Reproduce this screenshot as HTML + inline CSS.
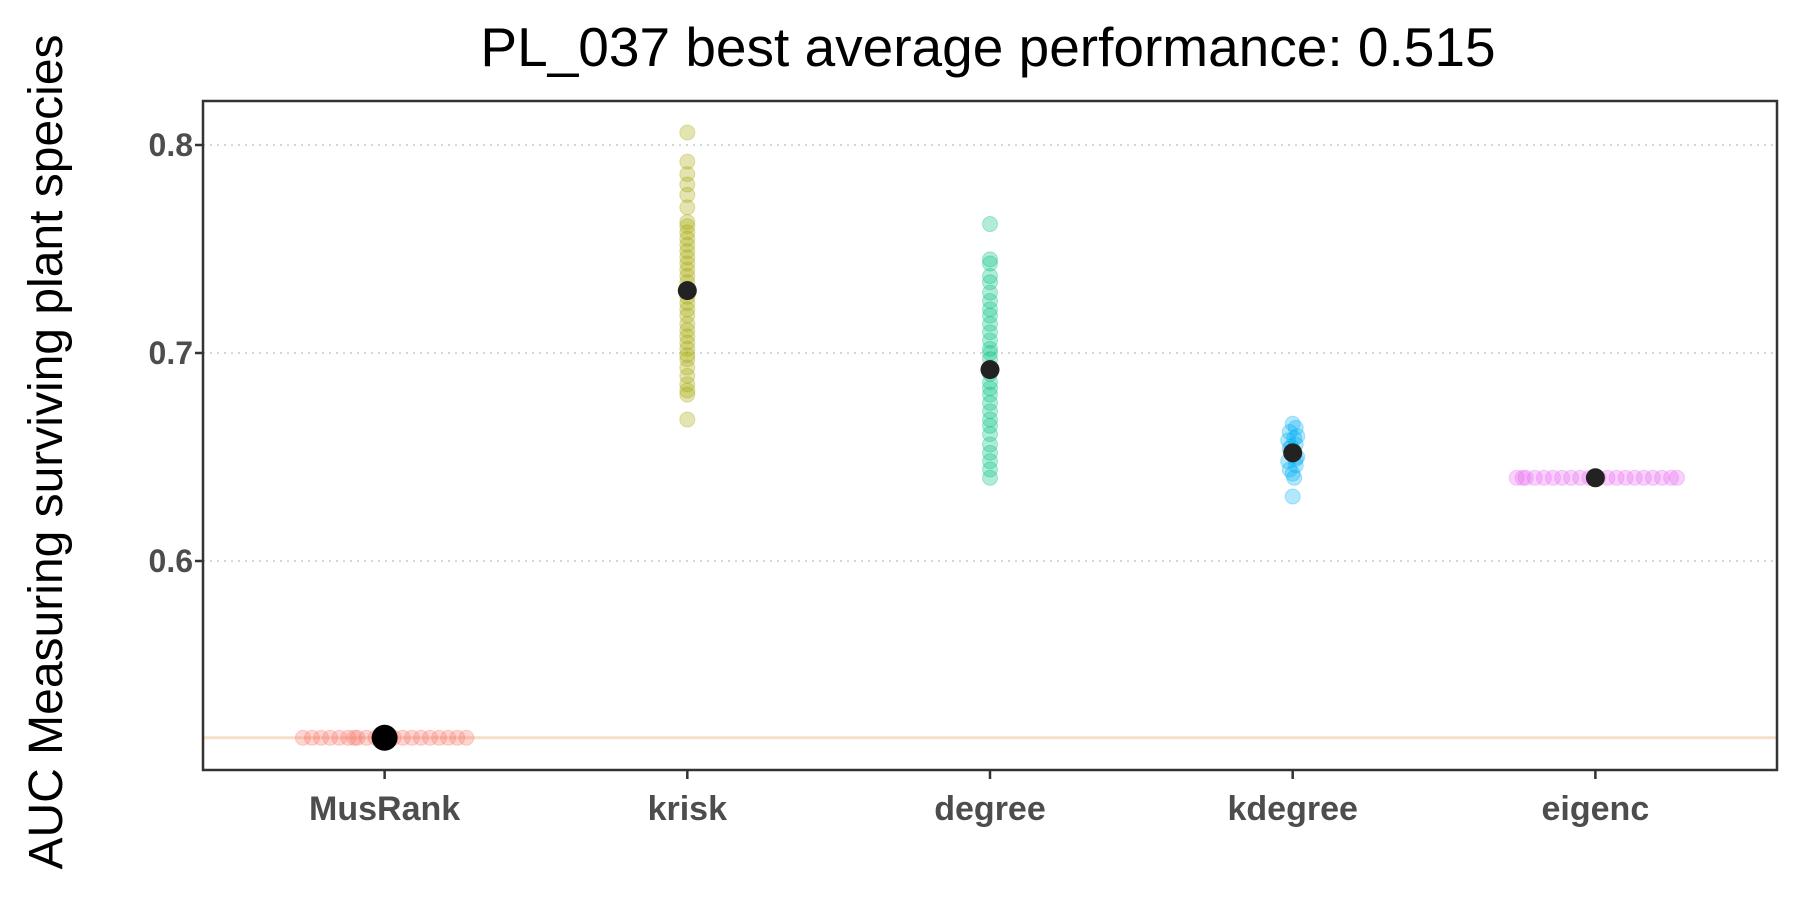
<!DOCTYPE html>
<html><head><meta charset="utf-8"><style>
html,body{margin:0;padding:0;background:#fff;}
svg{display:block;font-family:"Liberation Sans",sans-serif;}
</style></head><body>
<svg id="chart" width="1800" height="900" viewBox="0 0 1800 900">
<text x="988" y="66" font-size="55" text-anchor="middle" fill="#000">PL_037 best average performance: 0.515</text>
<text transform="translate(62,452) rotate(-90)" font-size="48" text-anchor="middle" fill="#000">AUC Measuring surviving plant species</text>
<g id="grid"></g><g id="marks"></g><g id="axes"></g>
</svg>
<script>
const categories = ["MusRank","krisk","degree","kdegree","eigenc"];
const colors = ["#F8766D","#A3A500","#00BF7D","#00B0F6","#E76BF3"];
const yTicks = [0.6,0.7,0.8];
const yTickLabels = ["0.6","0.7","0.8"];
const bestValue = 0.515;
const meanValues = [0.515,0.730,0.692,0.652,0.640];
const musrankValues = [0.515,0.515,0.515,0.515,0.515,0.515,0.515,0.515,0.515,0.515,0.515,0.515,0.515,0.515,0.515,0.515,0.515,0.515,0.515,0.515];
const musrankJitter = [-0.27,-0.24,-0.21,-0.18,-0.15,-0.12,-0.09,-0.06,-0.03,0.0,0.03,0.06,0.09,0.12,0.15,0.18,0.21,0.24,0.27,-0.1];
const kriskValues = [0.806,0.792,0.786,0.781,0.776,0.770,0.763,0.761,0.758,0.755,0.752,0.749,0.746,0.743,0.740,0.737,0.734,0.731,0.727,0.724,0.721,0.718,0.714,0.711,0.708,0.705,0.702,0.699,0.697,0.693,0.689,0.685,0.682,0.680,0.668];
const degreeValues = [0.762,0.745,0.743,0.737,0.734,0.729,0.725,0.721,0.718,0.714,0.710,0.706,0.702,0.700,0.697,0.693,0.690,0.686,0.683,0.680,0.676,0.672,0.668,0.665,0.661,0.656,0.652,0.648,0.644,0.640];
const kdegreeValues = [0.666,0.664,0.662,0.660,0.658,0.656,0.654,0.652,0.650,0.648,0.646,0.644,0.642,0.640,0.631,0.659,0.655,0.649];
const kdegreeJitter = [0,0.01,-0.01,0.015,-0.015,0.01,-0.01,0,0.015,-0.015,0.01,-0.01,0,0.005,0,0.005,-0.005,0.01];
const eigencValues = [0.640,0.640,0.640,0.640,0.640,0.640,0.640,0.640,0.640,0.640,0.640,0.640,0.640,0.640,0.640,0.640,0.640,0.640,0.640,0.640];
const eigencJitter = [-0.26,-0.23,-0.2,-0.17,-0.14,-0.11,-0.08,-0.05,-0.02,0.01,0.04,0.07,0.1,0.13,0.16,0.19,0.22,0.25,0.27,-0.24];

const L=203,R=1777,T=101,B=770;
const x = i => L + (i+0.6)*(R-L)/5.2;
const y = v => 145 + (0.8-v)*2080;
const NS="http://www.w3.org/2000/svg";
function mk(tag,attrs,parent){const e=document.createElementNS(NS,tag);for(const k in attrs)e.setAttribute(k,attrs[k]);parent.appendChild(e);return e;}
const grid=document.getElementById('grid'),marks=document.getElementById('marks'),axes=document.getElementById('axes');
yTicks.forEach((t,i)=>{
  const g=mk('line',{x1:L,x2:R,y1:y(t),y2:y(t),stroke:'#c8c8c8','stroke-width':1.5,'stroke-dasharray':'2 5'},grid);
  
  
  const tk=mk('line',{x1:L-8,x2:L,y1:y(t),y2:y(t),stroke:'#333','stroke-width':2.5},axes);
  
  
  const lb=mk('text',{x:L-10,y:y(t)+11,'font-size':32,'font-weight':'bold','text-anchor':'end',fill:'#4d4d4d'},axes);
  lb.textContent=yTickLabels[i];
  
  
});
const hl=mk('line',{x1:L,x2:R,y1:y(bestValue),y2:y(bestValue),stroke:'#f5dfc8','stroke-width':3},grid);


const series=[[musrankValues,musrankJitter],[kriskValues,null],[degreeValues,null],[kdegreeValues,kdegreeJitter],[eigencValues,eigencJitter]];
series.forEach((s,i)=>{
  s[0].forEach((v,j)=>{
    const dx=s[1]?s[1][j]:0;
    const c=mk('circle',{cx:x(i+dx),cy:y(v),r:7.5,fill:colors[i],'fill-opacity':0.3,stroke:colors[i],'stroke-opacity':0.3,'stroke-width':1},marks);
    
    
  });
});
meanValues.forEach((v,i)=>{
  const c=mk('circle',{cx:x(i),cy:y(v),r:i===0?13:9.5,fill:i===0?'#000':'#222'},marks);
  
  
});
const frame=mk('rect',{x:L,y:T,width:R-L,height:B-T,fill:'none',stroke:'#333','stroke-width':2.5},axes);


categories.forEach((c,i)=>{
  const tk=mk('line',{x1:x(i),x2:x(i),y1:B,y2:B+9,stroke:'#333','stroke-width':2.5},axes);
  
  
  const lb=mk('text',{x:x(i),y:820,'font-size':34,'font-weight':'bold','text-anchor':'middle',fill:'#4d4d4d'},axes);
  lb.textContent=c;
  
  
});
</script>
</body></html>
